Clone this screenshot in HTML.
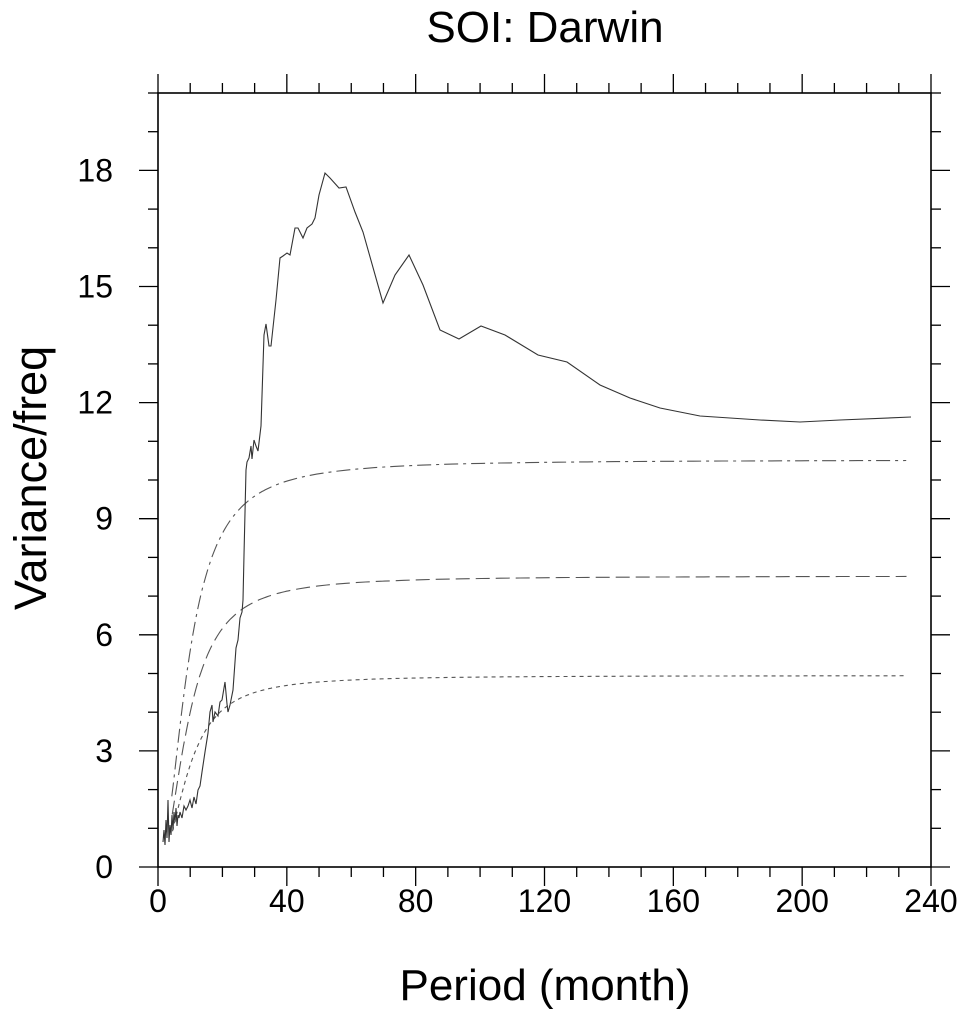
<!DOCTYPE html>
<html><head><meta charset="utf-8"><style>
html,body{margin:0;padding:0;background:#fff;}
svg{display:block;font-family:"Liberation Sans",sans-serif;}
</style></head><body>
<svg id="s" width="968" height="1016" viewBox="0 0 968 1016" xmlns="http://www.w3.org/2000/svg">
<text x="545" y="42" font-size="44" text-anchor="middle" fill="#000">SOI: Darwin</text>
<g id="ticks" stroke="#000" stroke-width="1.3"></g>
<rect x="158" y="93" width="773" height="774" fill="none" stroke="#000" stroke-width="1.6"/>
<g id="labels" font-size="32" fill="#000"></g>
<text x="545" y="1000" font-size="44" text-anchor="middle">Period (month)</text>
<text transform="translate(46,478) rotate(-90)" font-size="45" text-anchor="middle">Variance/freq</text>
<g id="curves" fill="none"></g>
<polyline fill="none" stroke="#333" stroke-width="1.1" points="
163,842 164,830 165,845 166,820 167,838 168,800 169,842 170,825 171,835 172,815 173,830 174,812 175,822 176,808 177,826 178,815 179,818 180,812 182,818 184,806 186,810 188,806 190,800 192,808 194,797 196,804 198,790 200,786 202,772 205,752 208,733 210,712 212,705 213,722 215,712 218,716 220,702 222,700 225,682 227,704 228,712 230,705 233,690 236,648 238,640 240,618 242,612 243,600 244,555 246,470 247,462 249,458 251,446 252,459 254,440 256,446 258,451 261,426 264,335 266,324 269,346 271,346 276,300 280,258 283,256 287,253 290,255 295,228 298,228 303,238 307,228 312,224 315,218 319,195 325,173 330,178 339,188 346,187 355,212 363,232 383,303 395,275 409,255 423,285 440,330 459,339 481,326 505,335 538,355 567,362 600,385 630,398 660,408 700,416 760,420 800,422 840,420 911,417"/>
</svg>
<script>
const X=p=>158+p*773/240, Y=v=>867-v*774/20;
let t=document.getElementById('ticks'),l=document.getElementById('labels'),h='',hl='';
for(let p=0;p<=240;p+=10){let x=X(p),maj=p%40==0,len=maj?19:10;
 h+=`<line x1="${x}" y1="867" x2="${x}" y2="${867+len}"/><line x1="${x}" y1="93" x2="${x}" y2="${93-len}"/>`;
 if(maj)hl+=`<text x="${x}" y="912" text-anchor="middle">${p}</text>`;}
for(let v=0;v<=20;v++){let y=Y(v),maj=v%3==0,len=maj?19:10;
 h+=`<line x1="158" y1="${y}" x2="${158-len}" y2="${y}"/><line x1="931" y1="${y}" x2="${931+len}" y2="${y}"/>`;
 if(maj)hl+=`<text x="${v>=10?113:113}" y="${y+11}" text-anchor="end">${v}</text>`;}
t.innerHTML=h;l.innerHTML=hl;
let c='';
[[10.52,'14,5,3,5',4.3],[7.52,'14,6',4.4],[4.95,'4,4',4.5]].forEach(([A,d,p0])=>{
 let pts=[];for(let p=p0;p<=233;p+=(p<40?0.5:3)){pts.push(X(p).toFixed(1)+','+Y(A*p*p/(p*p+88)).toFixed(1));}
 c+=`<polyline points="${pts.join(' ')}" stroke="#555" stroke-width="1.1" stroke-dasharray="${d}"/>`;});
document.getElementById('curves').innerHTML=c;
</script>
</body></html>
